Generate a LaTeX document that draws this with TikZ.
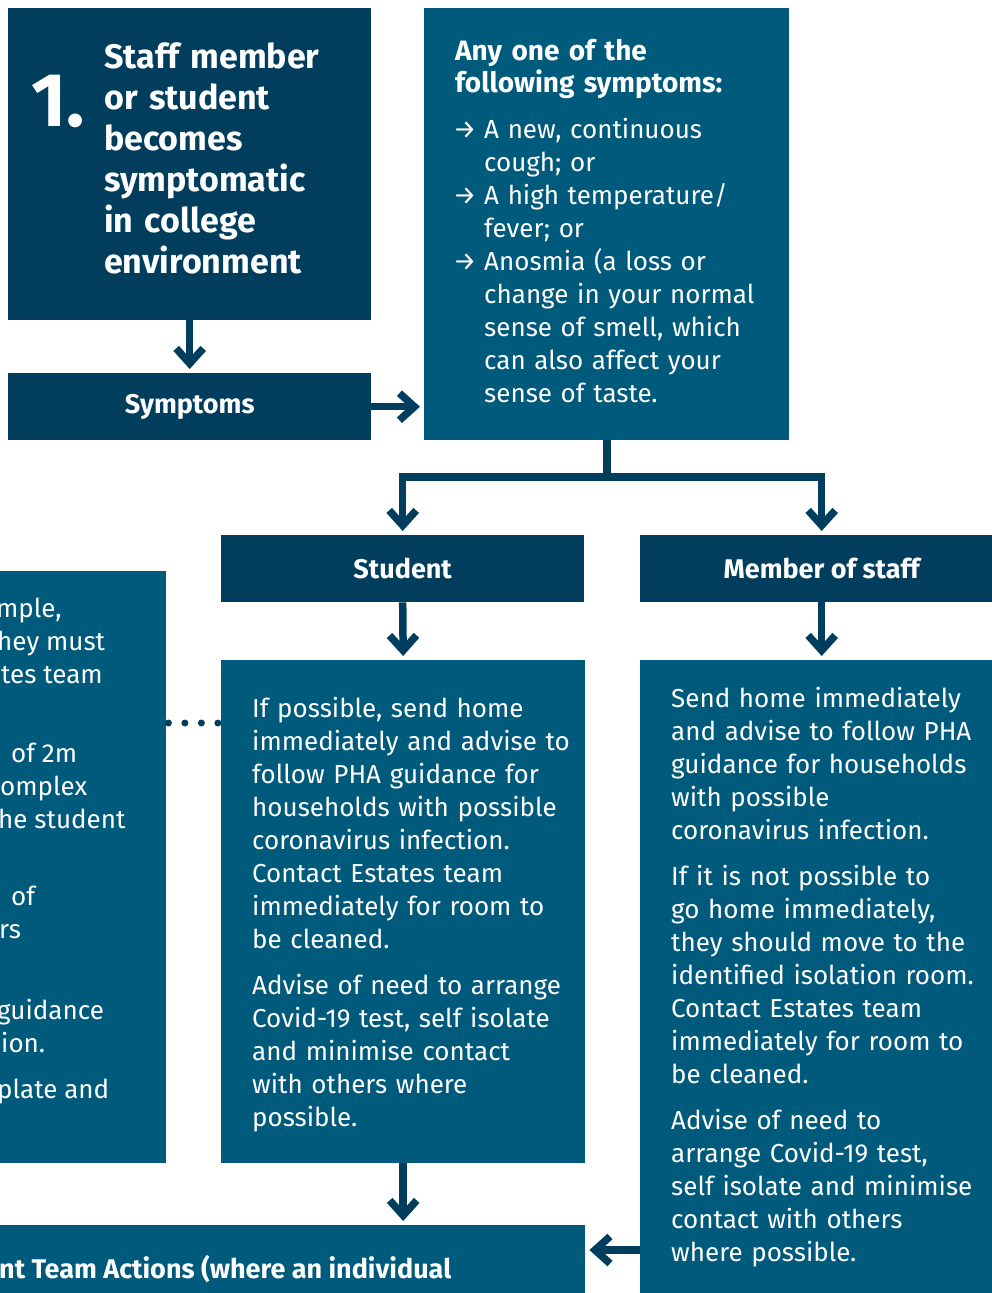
\documentclass[tikz,border=0pt]{standalone}
\usepackage{fontspec}
\setmainfont{Fira Sans}
\usetikzlibrary{arrows.meta,positioning}
\definecolor{navy}{HTML}{013E5D}
\definecolor{cardblue}{HTML}{005A7C}

\tikzset{
  darkbox/.style={fill=navy,draw=none,inner sep=0pt,anchor=north west},
  lightbox/.style={fill=cardblue,draw=none,inner sep=0pt,anchor=north west},
  headtext/.style={text=white,font=\bfseries\fontsize{27}{32}\selectfont},
  boxtext/.style={text=white,inner sep=0pt,anchor=base west,align=left,font=\fontsize{26}{33}\selectfont},
  flow/.style={draw=navy,line width=7.5pt},
  flowarrow/.style={flow,-{Straight Barb[length=15pt,width=27pt]},shorten >=4pt},
}

\begin{document}
\begin{tikzpicture}[x=1pt,y=-1pt]
  \useasboundingbox (0,0) rectangle (992,1293);
  \clip (0,0) rectangle (992,1293);

  % boxes
  \node[darkbox,minimum width=363pt,minimum height=312pt] (stepone) at (8,8) {};
  \node[darkbox,headtext,minimum width=363pt,minimum height=67pt] (symptoms) at (8,373) {Symptoms};
  \node[lightbox,minimum width=365pt,minimum height=432pt] (symlist) at (424,8) {};
  \node[darkbox,headtext,minimum width=363pt,minimum height=67pt] (student) at (221,535) {Student};
  \node[darkbox,headtext,minimum width=363pt,minimum height=67pt] (staff) at (640,535) {Member of staff};
  \node[lightbox,minimum width=170pt,minimum height=592pt] (infobox) at (-4,571) {};
  \node[lightbox,minimum width=364pt,minimum height=503pt] (studentinfo) at (221,660) {};
  \node[lightbox,minimum width=363pt,minimum height=650pt] (staffinfo) at (640,660) {};
  \node[lightbox,minimum width=589pt,minimum height=80pt] (bottombox) at (-4,1225) {};

  % texts
  \node[boxtext,font=\bfseries\fontsize{76}{76}\selectfont] (stepnum) at (31,126) {1.};
  \node[boxtext,text width=265pt,font=\bfseries\fontsize{34}{41}\selectfont] (steptitle) at (104,68)
    {Staff member\\or student\\becomes\\symptomatic\\in college\\environment};
  \node[boxtext,text width=320pt,font=\bfseries\fontsize{28}{32}\selectfont] (symtitle) at (455,60)
    {Any one of the\\following symptoms:};
  \foreach \y in {138,204,270}
    \node[boxtext] (bullet\y) at (453,\y) {→};
  \node[boxtext,text width=300pt] (symitems) at (484,138)
    {A new, continuous\\cough; or\\A high temperature/\\fever; or\\Anosmia (a loss or\\change in your normal\\sense of smell, which\\can also affect your\\sense of taste.};
  \node[boxtext,text width=330pt] (studenttext) at (252,717)
    {If possible, send home\\immediately and advise to\\follow PHA guidance for\\households with possible\\coronavirus infection.\\Contact Estates team\\immediately for room to\\be cleaned.\\[13pt]
     Advise of need to arrange\\Covid-19 test, self isolate\\and minimise contact\\with others where\\possible.};
  \node[boxtext,text width=320pt] (stafftext) at (671,707)
    {Send home immediately\\and advise to follow PHA\\guidance for households\\with possible\\coronavirus infection.\\[13pt]
     If it is not possible to\\go home immediately,\\they should move to the\\identified isolation room.\\Contact Estates team\\immediately for room to\\be cleaned.\\[13pt]
     Advise of need to\\arrange Covid-19 test,\\self isolate and minimise\\contact with others\\where possible.};
  \foreach \x/\y/\txt in {-4/617/{mple,},-3/650/{hey must},1/683/{tes team},11/762/{of 2m},0/795/{omplex},-2/828/{he student},
      11/905/{of},-1/938/{rs},-3/1019/{guidance},1/1052/{ion.},-3/1098/{plate and}}
    \node[boxtext] (frag\y) at (\x,\y) {\txt};
  \node[boxtext,headtext] (bottomtext) at (-1,1278) {nt Team Actions (where an individual};

  % connectors
  \coordinate (split) at (607,477);
  \coordinate (dotrow) at (0,723);
  \coordinate (backrow) at (0,1250);
  \draw[flowarrow] (stepone.south) -- (symptoms.north);
  \draw[flowarrow] (symptoms.east) -- (symptoms.east -| symlist.west);
  \draw[flow] (symlist.south -| split) -- (split);
  \draw[flowarrow] (split) -| (student.north);
  \draw[flowarrow] (split) -| (staff.north);
  \draw[flowarrow] (student.south) -- (studentinfo.north);
  \draw[flowarrow] (staff.south) -- (staffinfo.north);
  \draw[flowarrow] (studentinfo.south) -- (studentinfo.south |- bottombox.north);
  \draw[flowarrow] (staffinfo.west |- backrow) -- (bottombox.east |- backrow);
  \draw[navy,line width=7pt,line cap=round,dash pattern=on 0pt off 16.5pt,shorten <=2pt]
    (infobox.east |- dotrow) -- (studentinfo.west |- dotrow);
\end{tikzpicture}
\end{document}
